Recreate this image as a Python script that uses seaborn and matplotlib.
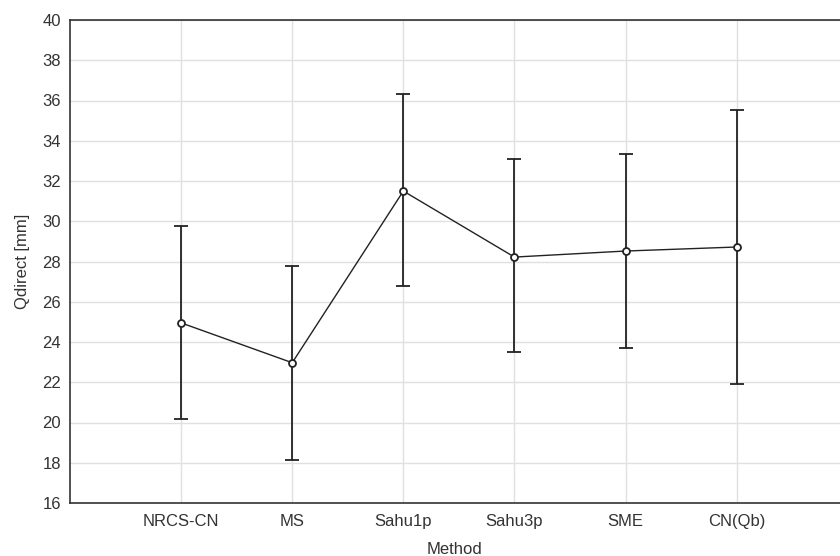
import matplotlib
matplotlib.use("Agg")
import matplotlib.pyplot as plt
import seaborn as sns
import pandas as pd
import numpy as np

methods = ["NRCS-CN", "MS", "Sahu1p", "Sahu3p", "SME", "CN(Qb)"]
means = [24.95, 22.97, 31.5, 28.22, 28.52, 28.72]
upper = [29.76, 27.78, 36.32, 33.08, 33.36, 35.54]
lower = [20.17, 18.16, 26.76, 23.5, 23.72, 21.92]

sns.set_style("white")
plt.rcParams["font.family"] = ["Liberation Sans", "DejaVu Sans"]

df = pd.DataFrame({"Method": methods, "Q": means})

fig = plt.figure(figsize=(8.4, 5.56), dpi=100)
ax = fig.add_axes([70 / 840, 53 / 556, 1 - 70 / 840, 483 / 556])

sns.pointplot(data=df, x="Method", y="Q", errorbar=None, color="#222222",
              markers="o", linestyles="-", ax=ax,
              markersize=5, markerfacecolor="white", markeredgecolor="#222222",
              markeredgewidth=1.3, linewidth=1.0, zorder=3)

xs = np.arange(len(methods))
m = np.array(means)
yerr = np.vstack([m - np.array(lower), np.array(upper) - m])
ax.errorbar(xs, m, yerr=yerr, fmt="none", ecolor="#222222", elinewidth=1.3,
            capsize=5, capthick=1.3, zorder=2)

ax.set_xlim(-1.0, 5.93)
ax.set_ylim(16, 40)
ax.set_yticks(np.arange(16, 41, 2))
ax.grid(True, color="#e0e0e0", linewidth=1.0)
ax.set_axisbelow(True)
for s in ["left", "bottom", "top"]:
    ax.spines[s].set_color("#333333")
    ax.spines[s].set_linewidth(1.2)
ax.spines["right"].set_visible(False)
ax.tick_params(axis="both", colors="#333333", length=4,
               direction="in", width=1.0)
ax.tick_params(axis="y", labelsize=12, pad=6.5)
ax.tick_params(axis="x", labelsize=12, pad=8)
ax.set_xlabel("Method", fontsize=12, color="#333333", labelpad=9)
ax.set_ylabel("Qdirect [mm]", fontsize=12, color="#333333", labelpad=9)

fig.savefig("out.png", dpi=100)
